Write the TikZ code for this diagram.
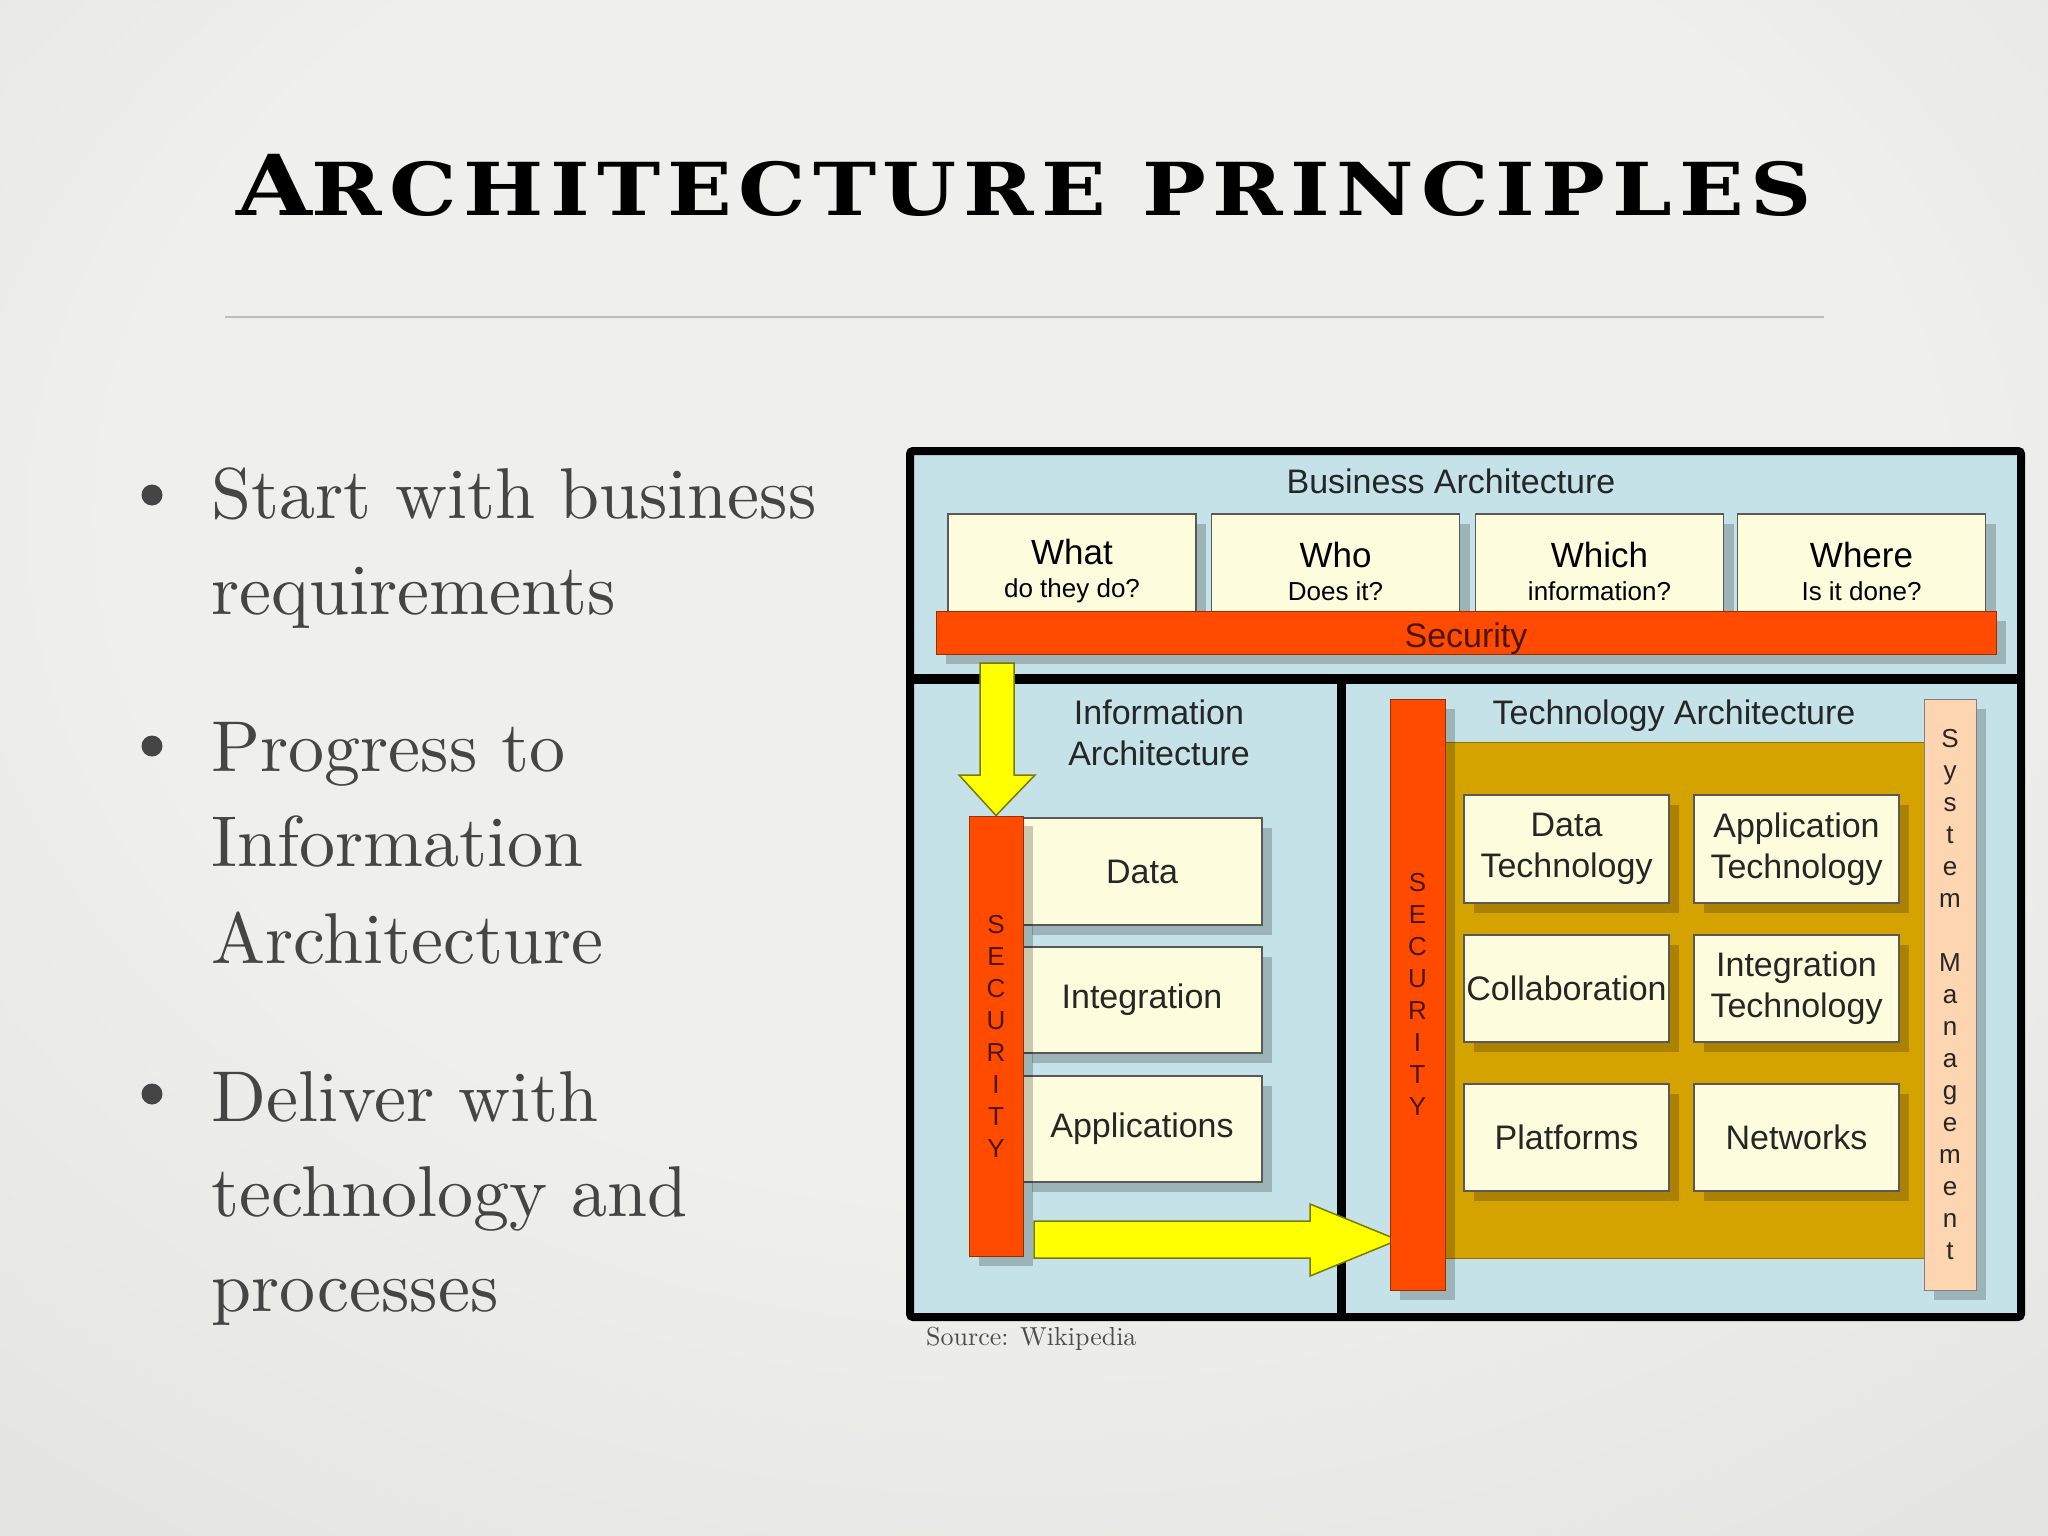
\documentclass[tikz,border=0pt]{standalone}
\usepackage{fontspec}
\newfontfamily\arialf{Liberation Sans}
\newfontfamily\titlef{DejaVu Serif}
\newfontfamily\bodyf{lmroman10-regular.otf}
\usetikzlibrary{shadows}
\definecolor{bgin}{HTML}{EFEFED}
\definecolor{bgout}{HTML}{CFCFCB}
\definecolor{panel}{HTML}{C4E2E7}
\definecolor{cream}{HTML}{FDFCDC}
\definecolor{secred}{HTML}{FF4B00}
\definecolor{secdark}{HTML}{4D1400}
\definecolor{gold}{HTML}{D5A300}
\definecolor{peach}{HTML}{FDD5B0}
\definecolor{bullgray}{HTML}{454545}
\definecolor{yel}{HTML}{FFFF00}
\definecolor{yeldraw}{HTML}{7A7A00}
\definecolor{rulegray}{HTML}{BDBDBB}
\pgfdeclareradialshading{bgshade}{\pgfpoint{0bp}{12bp}}{color(0bp)=(bgin); color(22bp)=(bgin); color(72bp)=(bgout)}
\tikzset{
  shad/.style={drop shadow={shadow xshift=10pt, shadow yshift=-10pt, fill=black, opacity=0.2}},
  cbox/.style={draw=black!65, line width=1.2pt, fill=cream, shad, inner sep=0pt},
  secbar/.style={draw=secred!60!black, line width=1pt, fill=secred, shad, inner sep=0pt},
  lbl/.style={font=\arialf\fontsize{34}{41}\selectfont, text=black!85, align=center, inner sep=0pt},
  vlet/.style={font=\arialf\fontsize{26}{32}\selectfont, align=center},
  bul/.style={font=\bodyf\fontsize{72}{96}\selectfont, text=bullgray, anchor=base west, inner sep=0pt},
  dot/.style={circle, fill=bullgray, minimum size=21pt, inner sep=0pt},
  yarrow/.style={fill=yel, draw=yeldraw, line width=1.5pt, line join=miter},
}
\begin{document}
\begin{tikzpicture}[x=1pt,y=-1pt]
\useasboundingbox (0,0) rectangle (2048,1536);
\shade[shading=bgshade] (0,0) rectangle (2048,1536);

% title and rule
\node[anchor=base, inner sep=0pt, font=\titlef\bfseries] (title) at (1024,215)
  {\scalebox{1.163}[1]{\addfontfeature{LetterSpace=8}\fontsize{84}{84}\selectfont A\fontsize{73}{84}\selectfont RCHITECTURE PRINCIPLES}};
\coordinate (rl) at (225,317);
\coordinate (rr) at (1824,317);
\draw[rulegray, line width=2pt] (rl) -- (rr);

% bullets
\node[dot] (d1) at (152,495) {};
\node[bul] (t11) at (211,518) {Start with business};
\node[bul] (t12) at (211,614) {requirements};
\node[dot] (d2) at (152,746) {};
\node[bul] (t21) at (211,771) {Progress to};
\node[bul] (t22) at (211,866) {Information};
\node[bul] (t23) at (211,963) {Architecture};
\node[dot] (d3) at (152,1094) {};
\node[bul] (t31) at (211,1121) {Deliver with};
\node[bul] (t32) at (211,1216) {technology and};
\node[bul] (t33) at (211,1311) {processes};

% frame
\node[draw=black, line width=8pt, fill=panel, rounded corners=3pt, minimum width=1111pt, minimum height=866pt, inner sep=0pt] (frame) at (1465.5,884) {};

% business architecture
\node[lbl] (batitle) at (1451,481) {Business Architecture};
\node[cbox, minimum width=248pt, minimum height=114pt, font=\arialf\fontsize{26}{33}\selectfont, align=center] (what) at (1072,571) {{\fontsize{35}{33}\selectfont What}\\do they do?};
\node[cbox, minimum width=248pt, minimum height=114pt, font=\arialf\fontsize{26}{33}\selectfont, align=center] (who) at (1335.5,571) {{\fontsize{35}{33}\selectfont Who}\\Does it?};
\node[cbox, minimum width=248pt, minimum height=114pt, font=\arialf\fontsize{26}{33}\selectfont, align=center] (which) at (1599.5,571) {{\fontsize{35}{33}\selectfont Which}\\information?};
\node[cbox, minimum width=248pt, minimum height=114pt, font=\arialf\fontsize{26}{33}\selectfont, align=center] (where) at (1861.5,571) {{\fontsize{35}{33}\selectfont Where}\\Is it done?};
\node[secbar, minimum width=1060pt, minimum height=43pt, text height=29pt, text depth=0pt, font=\arialf\fontsize{34}{34}\selectfont, text=secdark] (bsec) at (1466,632.5) {Security};

% dividers
\coordinate (hl) at (910,679);
\coordinate (hr) at (2021,679);
\coordinate (vt) at (1341,679);
\coordinate (vb) at (1341,1317);
\draw[line width=10pt] (hl) -- (hr);
\draw[line width=9pt] (vt) -- (vb);

% information architecture
\node[lbl] (iatitle) at (1159,733) {Information\\Architecture};
\node[cbox, minimum width=240pt, minimum height=107pt, lbl] (data) at (1142,871.5) {Data};
\node[cbox, minimum width=240pt, minimum height=106pt, lbl] (integ) at (1142,1000) {Integration};
\node[cbox, minimum width=240pt, minimum height=106pt, lbl] (apps) at (1142,1129) {Applications};
\node[secbar, minimum width=54pt, minimum height=440pt, vlet, text=secdark] (lsec) at (996,1036) {S\\E\\C\\U\\R\\I\\T\\Y};

% arrows
\draw[yarrow] (980,663) -- (1014,663) -- (1014,775) -- (1035,775) -- (lsec.north) -- (959,775) -- (980,775) -- cycle;
\draw[yarrow] (1034,1221) -- (1310,1221) -- (1310,1204) -- (1398,1240) -- (1310,1276) -- (1310,1258) -- (1034,1258) -- cycle;

% technology architecture
\node[lbl] (tatitle) at (1674,716) {Technology Architecture};
\node[fill=gold, draw=gold!70!black, line width=1pt, minimum width=479pt, minimum height=516pt, inner sep=0pt] (goldarea) at (1684.5,1000) {};
\node[secbar, minimum width=55pt, minimum height=591pt, vlet, text=secdark] (rsec) at (1417.5,994.5) {S\\E\\C\\U\\R\\I\\T\\Y};
\node[cbox, minimum width=205pt, minimum height=108pt, lbl] (dtech) at (1566.5,849) {Data\\Technology};
\node[cbox, minimum width=205pt, minimum height=108pt, lbl] (atech) at (1796.5,849) {Application\\Technology};
\node[cbox, minimum width=205pt, minimum height=107pt, lbl] (collab) at (1566.5,988.5) {Collaboration};
\node[cbox, minimum width=205pt, minimum height=107pt, lbl] (itech) at (1796.5,988.5) {Integration\\Technology};
\node[cbox, minimum width=205pt, minimum height=107pt, lbl] (plat) at (1566.5,1137.5) {Platforms};
\node[cbox, minimum width=205pt, minimum height=107pt, lbl] (netw) at (1796.5,1137.5) {Networks};
\node[fill=peach, draw=black!50, line width=1pt, shad, minimum width=52pt, minimum height=591pt, inner sep=0pt, vlet, text=black!85] (sysm) at (1950,994.5) {S\\y\\s\\t\\e\\m\\[32pt]M\\a\\n\\a\\g\\e\\m\\e\\n\\t};

% source
\node[anchor=base west, inner sep=0pt, font=\bodyf\fontsize{26}{26}\selectfont, text=black!70] (src) at (926,1345) {Source: Wikipedia};
\end{tikzpicture}
\end{document}
